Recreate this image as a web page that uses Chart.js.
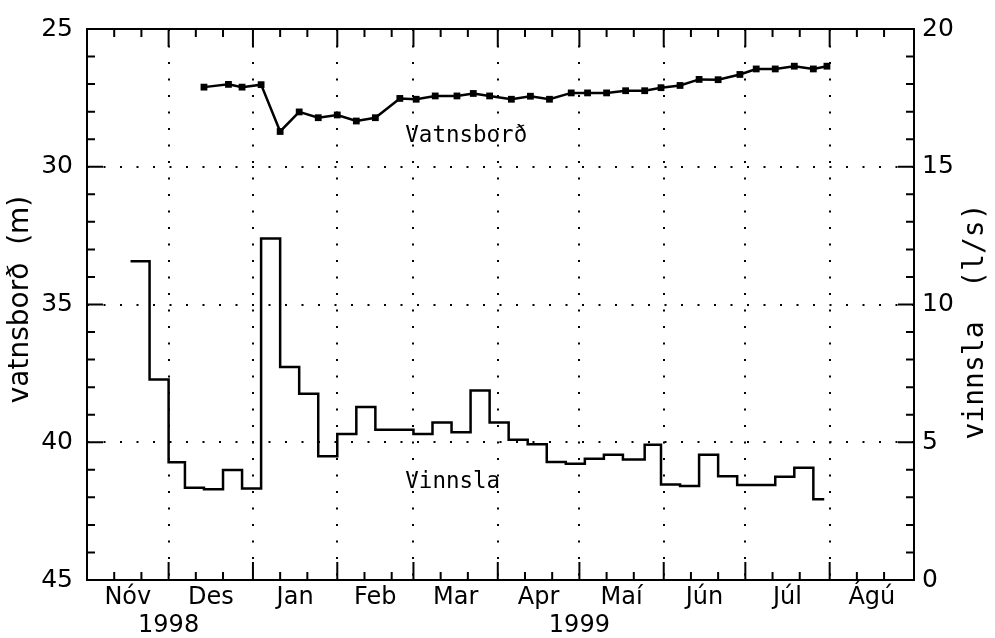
<!DOCTYPE html>
<html><head><meta charset="utf-8">
<script src="https://cdn.jsdelivr.net/npm/chart.js@4/dist/chart.umd.min.js"></script>
<style>html,body{margin:0;padding:0;background:#fff}canvas{display:block}</style>
</head><body>
<canvas id="c" width="995" height="638"></canvas>
<script>
// ---- data ----
const monthStarts = ['1998-11-01','1998-12-01','1999-01-01','1999-02-01','1999-03-01','1999-04-01','1999-05-01','1999-06-01','1999-07-01','1999-08-01','1999-09-01'];
const monthLabels = ['Nóv','Des','Jan','Feb','Mar','Apr','Maí','Jún','Júl','Ágú'];
const yearLabels = ['1998','1999'];
const yearLabelDates = ['1998-12-01','1999-05-01'];
const levelTicks = [25,30,35,40,45];
const pumpTicks = [0,5,10,15,20];

const levelDates = ['1998-12-14','1998-12-23','1998-12-28','1999-01-04','1999-01-11','1999-01-18','1999-01-25','1999-02-01','1999-02-08','1999-02-15','1999-02-24','1999-03-02','1999-03-09','1999-03-17','1999-03-23','1999-03-29','1999-04-06','1999-04-13','1999-04-20','1999-04-28','1999-05-04','1999-05-11','1999-05-18','1999-05-25','1999-05-31','1999-06-07','1999-06-14','1999-06-21','1999-06-29','1999-07-05','1999-07-12','1999-07-19','1999-07-26','1999-07-31'];
const levelValues = [27.11,27.01,27.11,27.02,28.72,28.01,28.22,28.12,28.34,28.22,27.52,27.55,27.43,27.43,27.34,27.43,27.55,27.44,27.55,27.32,27.32,27.32,27.24,27.24,27.13,27.05,26.83,26.84,26.65,26.45,26.45,26.35,26.45,26.35];

const pumpDates = ['1998-11-17','1998-11-24','1998-12-01','1998-12-07','1998-12-14','1998-12-21','1998-12-28','1999-01-04','1999-01-11','1999-01-18','1999-01-25','1999-02-01','1999-02-08','1999-02-15','1999-03-01','1999-03-08','1999-03-15','1999-03-22','1999-03-29','1999-04-05','1999-04-12','1999-04-19','1999-04-26','1999-05-03','1999-05-10','1999-05-17','1999-05-25','1999-05-31','1999-06-07','1999-06-14','1999-06-21','1999-06-28','1999-07-12','1999-07-19','1999-07-26','1999-07-30'];
const pumpValues = [11.57,7.28,4.27,3.35,3.29,3.99,3.32,12.40,7.73,6.76,4.49,5.30,6.28,5.45,5.30,5.72,5.36,6.88,5.72,5.09,4.93,4.28,4.22,4.40,4.55,4.37,4.91,3.47,3.41,4.55,3.77,3.45,3.75,4.07,2.93,2.93];

const seriesNames = ['Vatnsborð','Vinnsla'];
const seriesLabelDates = ['1999-02-26','1999-02-26'];
const seriesLabelValues = [28.9, 3.55];
const axisTitles = ['vatnsborð  (m)','vinnsla  (l/s)'];

// ---- helpers ----
const T0 = Date.parse(monthStarts[0] + 'T00:00:00Z');
const dayOf = s => (Date.parse(s + 'T00:00:00Z') - T0) / 86400000;

const xStart = dayOf(monthStarts[0]);
const xEnd = dayOf(monthStarts[monthStarts.length - 1]);
const boundaryDays = monthStarts.map(dayOf);
const interior = new Set(boundaryDays.slice(1, -1));
const xLabelMap = new Map();
const xTickVals = boundaryDays.slice();
monthLabels.forEach((m, i) => {
  const mid = (boundaryDays[i] + boundaryDays[i + 1]) / 2;
  xTickVals.push(mid);
  xLabelMap.set(mid, m);
});
yearLabels.forEach((yl, i) => xLabelMap.set(dayOf(yearLabelDates[i]), ['', yl]));
xTickVals.sort((a, b) => a - b);

const FONT = '"DejaVu Sans", sans-serif';
const MONO = '"DejaVu Sans Mono", monospace';
const BLACK = '#000';
const NONE = 'rgba(0,0,0,0)';

const decor = {
  id: 'decor',
  beforeDraw(chart) {
    const c = chart.ctx; c.save(); c.fillStyle = '#fff'; c.fillRect(0, 0, chart.width, chart.height); c.restore();
  },
  afterDraw(chart) {
    const {ctx, chartArea: a, scales: {x, y, y2}} = chart;
    ctx.save();
    ctx.strokeStyle = BLACK; ctx.lineWidth = 2;
    ctx.strokeRect(a.left, a.top, a.right - a.left, a.bottom - a.top);
    ctx.beginPath();
    monthStarts.forEach((d, i) => {
      const base = dayOf(d);
      [0, 10, 20].forEach(off => {
        if (i === monthStarts.length - 1 && off > 0) return;
        const px = x.getPixelForValue(base + off);
        const L = off === 0 ? 18 : 8;
        ctx.moveTo(px, a.bottom); ctx.lineTo(px, a.bottom - L);
        ctx.moveTo(px, a.top); ctx.lineTo(px, a.top + L);
      });
    });
    for (let m = levelTicks[0]; m <= levelTicks[levelTicks.length - 1]; m++) {
      const py = y.getPixelForValue(m); const L = m % 5 === 0 ? 16 : 8;
      ctx.moveTo(a.left, py); ctx.lineTo(a.left + L, py);
    }
    for (let v = pumpTicks[0]; v <= pumpTicks[pumpTicks.length - 1]; v++) {
      const py = y2.getPixelForValue(v); const L = v % 5 === 0 ? 16 : 8;
      ctx.moveTo(a.right, py); ctx.lineTo(a.right - L, py);
    }
    ctx.stroke();

    ctx.fillStyle = BLACK;
    ctx.font = '22.5px ' + MONO; ctx.textAlign = 'left'; ctx.textBaseline = 'middle';
    ctx.fillText(seriesNames[0], x.getPixelForValue(dayOf(seriesLabelDates[0])), y.getPixelForValue(seriesLabelValues[0]));
    ctx.fillText(seriesNames[1], x.getPixelForValue(dayOf(seriesLabelDates[1])), y2.getPixelForValue(seriesLabelValues[1]));

    ctx.textAlign = 'center';
    ctx.save();
    ctx.translate(21, (a.top + a.bottom) / 2 - 5); ctx.rotate(-Math.PI / 2);
    ctx.font = '28px ' + FONT; ctx.fillText(axisTitles[0], 0, 0);
    ctx.restore();
    ctx.save();
    ctx.translate(chart.width - 19, (a.top + a.bottom) / 2 + 17); ctx.rotate(-Math.PI / 2);
    ctx.font = '28px ' + MONO; ctx.fillText(axisTitles[1], 0, 0);
    ctx.restore();
    ctx.restore();
  }
};

const xFont = {family: FONT, size: 24};
const yFont = {family: FONT, size: 25};

new Chart(document.getElementById('c'), {
  type: 'line',
  data: {
    datasets: [
      {
        label: seriesNames[0], yAxisID: 'y',
        data: levelDates.map((d, i) => ({x: dayOf(d), y: levelValues[i]})),
        borderColor: BLACK, backgroundColor: BLACK, borderWidth: 2.5,
        pointStyle: 'rect', pointRadius: 4.8, pointBackgroundColor: BLACK, pointBorderWidth: 0,
        tension: 0, fill: false
      },
      {
        label: seriesNames[1], yAxisID: 'y2',
        data: pumpDates.map((d, i) => ({x: dayOf(d), y: pumpValues[i]})),
        borderColor: BLACK, borderWidth: 2.5, stepped: 'before', pointRadius: 0, fill: false
      }
    ]
  },
  options: {
    responsive: false, animation: false, devicePixelRatio: 1,
    layout: {padding: {top: 23, left: 0, right: 0, bottom: 0}},
    plugins: {legend: {display: false}, tooltip: {enabled: false}},
    scales: {
      x: {
        type: 'linear', position: 'bottom', min: xStart, max: xEnd,
        afterBuildTicks: s => { s.ticks = xTickVals.map(v => ({value: v})); },
        afterFit: s => { s.height = 58; },
        ticks: {
          autoSkip: false, maxRotation: 0, minRotation: 0, padding: 3, color: BLACK, font: xFont,
          callback: v => xLabelMap.has(v) ? xLabelMap.get(v) : ''
        },
        grid: {
          drawTicks: false, lineWidth: 2,
          color: c => (c.tick && interior.has(c.tick.value)) ? BLACK : NONE
        },
        border: {display: false, dash: [2, 14.5]}
      },
      y: {
        type: 'linear', position: 'left', reverse: true, min: levelTicks[0], max: levelTicks[levelTicks.length - 1],
        afterBuildTicks: s => { s.ticks = levelTicks.map(v => ({value: v})); },
        afterFit: s => { s.width = 87; },
        ticks: {padding: 14, color: BLACK, font: yFont},
        grid: {
          drawTicks: false, lineWidth: 2,
          color: c => (c.tick && c.tick.value > levelTicks[0] && c.tick.value < levelTicks[levelTicks.length - 1]) ? BLACK : NONE
        },
        border: {display: false, dash: [2, 14.5]}
      },
      y2: {
        type: 'linear', position: 'right', min: pumpTicks[0], max: pumpTicks[pumpTicks.length - 1],
        afterBuildTicks: s => { s.ticks = pumpTicks.map(v => ({value: v})); },
        afterFit: s => { s.width = 81; },
        ticks: {padding: 8, color: BLACK, font: yFont},
        grid: {display: false, drawTicks: false},
        border: {display: false}
      }
    }
  },
  plugins: [decor]
});
</script>
</body></html>
